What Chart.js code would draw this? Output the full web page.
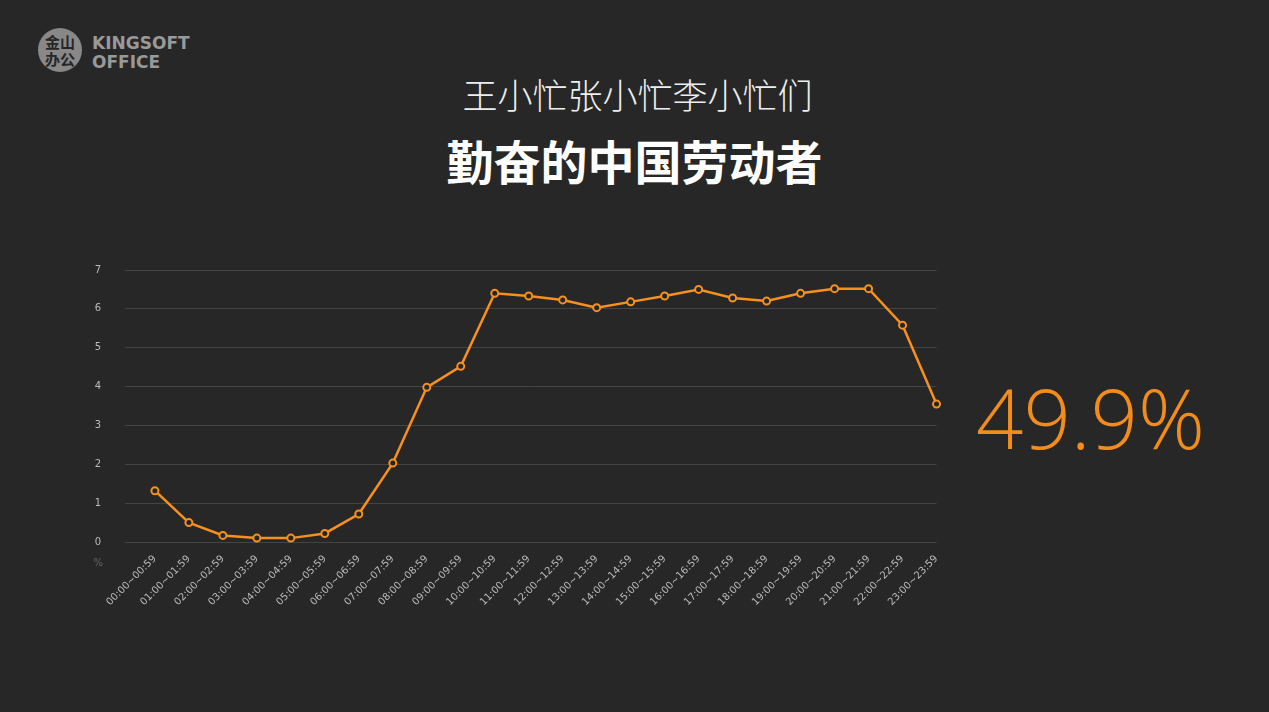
<!DOCTYPE html>
<html><head><meta charset="utf-8">
<script src="https://cdn.jsdelivr.net/npm/chart.js@4"></script>
<style>
body{margin:0;width:1269px;height:712px;background:#272727;overflow:hidden;position:relative;font-family:"Noto Sans CJK SC","Noto Sans",sans-serif;}
.t1{position:absolute;top:69px;left:0;width:1275px;text-align:center;color:#eee;font-size:35px;font-weight:300;line-height:50px;}
.t2{position:absolute;top:130px;left:0;width:1269px;text-align:center;color:#fff;font-size:47px;font-weight:700;line-height:60px;}
.big{position:absolute;left:976px;top:362px;color:#f28c1a;font-size:83px;line-height:110px;font-family:"Open Sans",sans-serif;font-weight:300;}
.logo{position:absolute;left:38px;top:28px;width:44px;height:44px;border-radius:50%;background:#888;color:#262626;font-size:15px;line-height:17px;font-weight:700;text-align:center;padding-top:5px;box-sizing:border-box;}
.logot{position:absolute;left:92px;top:34px;color:#999;font:700 17px/19px "DejaVu Sans",sans-serif;}
#wrap{position:absolute;left:80px;top:240px;width:868px;height:385px;}
</style></head><body>
<div class="logo">金山<br>办公</div>
<div class="logot">KINGSOFT<br>OFFICE</div>
<div class="t1">王小忙张小忙李小忙们</div>
<div class="t2">勤奋的中国劳动者</div>
<div class="big">49.9%</div>
<div id="wrap"><canvas id="c"></canvas></div>
<script>
// ============ Data ============
const hours = ['00:00~00:59','01:00~01:59','02:00~02:59','03:00~03:59','04:00~04:59','05:00~05:59','06:00~06:59','07:00~07:59','08:00~08:59','09:00~09:59','10:00~10:59','11:00~11:59','12:00~12:59','13:00~13:59','14:00~14:59','15:00~15:59','16:00~16:59','17:00~17:59','18:00~18:59','19:00~19:59','20:00~20:59','21:00~21:59','22:00~22:59','23:00~23:59'];
const shares = [1.32,0.5,0.17,0.1,0.1,0.22,0.72,2.03,3.98,4.52,6.4,6.33,6.23,6.03,6.18,6.33,6.5,6.28,6.2,6.4,6.52,6.52,5.58,3.55];
const yTicks = [0,1,2,3,4,5,6,7];

// ============ Chart ============
const unitLabel = {
    id: 'unitLabel',
    afterDraw(chart) {
        const { ctx, scales: { y } } = chart;
        ctx.save();
        ctx.fillStyle = '#666';
        ctx.font = '10px "DejaVu Sans"';
        ctx.textAlign = 'right';
        ctx.fillText('%', y.right - 22, y.getPixelForValue(0) + 24);
        ctx.restore();
    }
};

new Chart(document.getElementById('c'), {
    type: 'line',
    data: {
        datasets: [{
            data: shares.map((v, i) => ({ x: i, y: v })),
            borderColor: '#f7901e',
            borderWidth: 2.5,
            pointRadius: 3.5,
            pointBorderWidth: 2,
            pointBackgroundColor: '#262626',
            pointBorderColor: '#f7901e',
            tension: 0,
            clip: false
        }]
    },
    plugins: [unitLabel],
    options: {
        responsive: true,
        maintainAspectRatio: false,
        animation: false,
        layout: { padding: 0 },
        plugins: { legend: { display: false }, tooltip: { enabled: false } },
        scales: {
            x: {
                type: 'linear',
                min: -0.88, max: 23,
                grid: { display: false },
                border: { display: false },
                afterBuildTicks: axis => { axis.ticks = hours.map((_, i) => ({ value: i })); },
                ticks: {
                    autoSkip: false, maxRotation: 45, minRotation: 45,
                    color: '#bbb', font: { size: 10, family: 'DejaVu Sans' },
                    callback: v => hours[v]
                },
                afterFit: axis => { axis.height = 83; }
            },
            y: {
                min: 0, max: 7,
                afterBuildTicks: axis => { axis.ticks = yTicks.map(v => ({ value: v })); },
                grid: { color: '#444', drawTicks: false },
                border: { display: false },
                ticks: { color: '#bbb', font: { size: 10, family: 'DejaVu Sans' }, padding: 24 },
                afterFit: axis => { axis.width = 45; }
            }
        }
    }
});
</script>
</body></html>
